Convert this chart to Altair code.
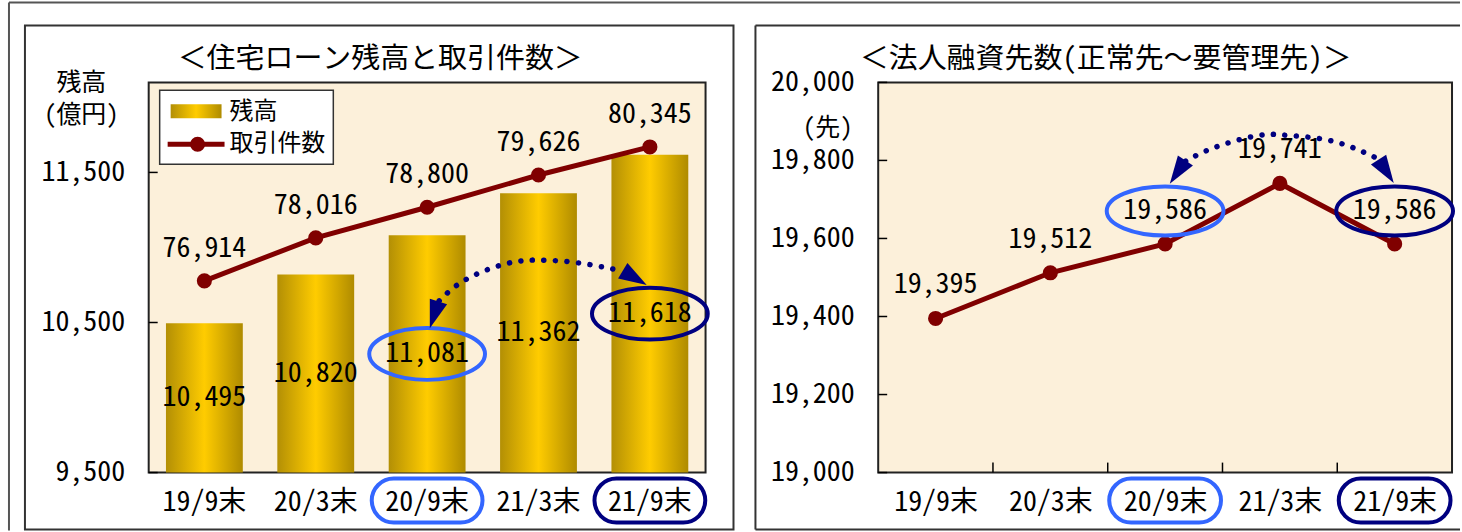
import altair as alt
import pandas as pd

# ---------------- data ----------------
CATS = ["19/9末", "20/3末", "20/9末", "21/3末", "21/9末"]
BALANCE = [10495, 10820, 11081, 11362, 11618]          # 残高 (億円)
DEALS = [76914, 78016, 78800, 79626, 80345]            # 取引件数
CORP = [19395, 19512, 19586, 19741, 19586]             # 法人融資先数
BAL_TICKS = [9500, 10500, 11500]
BAL_DOMAIN = [9500, 12100]
DEAL_DOMAIN = [72000, 82000]
CORP_TICKS = [19000, 19200, 19400, 19600, 19800, 20000]
CORP_DOMAIN = [19000, 20000]
HIGHLIGHT_CATS = ["20/9末", "21/9末"]
HIGHLIGHT_COLORS = ["#3366FF", "#000080"]

TITLE_L = "＜住宅ローン残高と取引件数＞"
TITLE_R = "＜法人融資先数(正常先～要管理先)＞"
LEGEND_LABELS = ["残高", "取引件数"]

# annotation arcs: x in category index units (1..5), y in the panel's value units
ARC1_X = [3.108, 3.34, 3.70, 4.013, 4.371, 4.756]
ARC1_Y = [10644, 10783, 10890, 10916, 10896, 10843]
HEAD1_X = [3.063, 4.864]
HEAD1_Y = [10551, 10797]
HEAD1_ANGLE = [18, 301]
ARC2_X = [3.178, 3.439, 3.813, 4.074, 4.465, 4.865]
ARC2_Y = [19798, 19834, 19864, 19864, 19849, 19803]
HEAD2_X = [3.109, 4.926]
HEAD2_Y = [19770, 19772]
HEAD2_ANGLE = [34, 327]

# ---------------- style / layout ----------------
FONT = "Noto Sans Mono CJK JP, Noto Sans CJK JP, monospace"
FS = 28
TFS = 29
RED = "#800000"
NAVY = "#000080"
PLOT_BG = "#FCF0DA"
W1, W2, H = 558, 575, 391
OX, OY = 148, 81          # page position of left plot origin
GAP = 173
OX2 = OX + W1 + GAP       # page x of right plot origin
PAGE_W, PAGE_H = 1462, 531

GOLD = alt.LinearGradient(
    gradient="linear",
    stops=[alt.GradientStop(color="#B38F05", offset=0),
           alt.GradientStop(color="#FFCC00", offset=0.5),
           alt.GradientStop(color="#AF8B00", offset=1)],
    x1=0, x2=1, y1=0, y2=0)


def ellipse_path(ry):
    k = 0.5523
    a, b = round(k * ry, 4), round(ry, 4)
    return (f"M 1 0 C 1 {a} {k} {b} 0 {b} C {-k} {b} -1 {a} -1 0 "
            f"C -1 {-a} {-k} {-b} 0 {-b} C {k} {-b} 1 {-a} 1 0 Z")


ARROW = "M 0 1 L -0.65 -1 L 0.65 -1 Z"

main = pd.DataFrame({"cat": CATS, "balance": BALANCE, "deals": DEALS, "corp": CORP})
one = pd.DataFrame({"k": [0]})
base = alt.Chart(main)

idx_scale = alt.Scale(domain=[0.5, 5.5], nice=False, zero=False)
bal_scale = alt.Scale(domain=BAL_DOMAIN, nice=False, zero=False)
deal_scale = alt.Scale(domain=DEAL_DOMAIN, nice=False, zero=False)
corp_scale = alt.Scale(domain=CORP_DOMAIN, nice=False, zero=False)
hl_stroke = alt.Stroke("cat:N", scale=alt.Scale(domain=HIGHLIGHT_CATS, range=HIGHLIGHT_COLORS), legend=None)
hl_filter = alt.FieldOneOfPredicate(field="cat", oneOf=HIGHLIGHT_CATS)


def xs():
    return alt.Scale(domain=CATS, paddingInner=0, paddingOuter=0)


def xcat(axis=None):
    return alt.X("cat:N", sort=CATS, scale=xs(), axis=axis)


def x_axis():
    return alt.Axis(title=None, labelAngle=0, ticks=False, tickSize=0, domain=False,
                    labelPadding=30, labelBaseline="middle", labelFont=FONT,
                    labelFontSize=FS, labelColor="black")


def y_axis(values, title, tx, ty):
    return alt.Axis(values=values, format=",d", title=title, titleAngle=0, titleX=tx, titleY=ty,
                    titleAlign="center", titleBaseline="alphabetic", titleLineHeight=32,
                    titleFont=FONT, titleFontSize=25, titleFontWeight="normal", titleColor="black",
                    ticks=False, tickSize=0, domain=False, grid=False, labelPadding=24,
                    labelFont=FONT, labelFontSize=FS, labelColor="black", labelOverlap=False)


def rule(color, width, **enc):
    return alt.Chart(one).mark_rule(color=color, strokeWidth=width).encode(
        **{k: alt.value(v) for k, v in enc.items()})


def title_text(text, cx):
    return alt.Chart(one).mark_text(text=text, align="center", baseline="alphabetic",
                                    font=FONT, fontSize=TFS, color="black").encode(
        x=alt.value(cx), y=alt.value(-14))


# ---------------- left panel ----------------
page_box = alt.Chart(one).mark_rect(fill="white", fillOpacity=0).encode(
    x=alt.value(-OX), x2=alt.value(PAGE_W - OX), y=alt.value(-OY), y2=alt.value(PAGE_H - OY))
outer_top = rule("#555", 2, x=8 - OX, x2=PAGE_W - OX, y=1 - OY)
outer_left = rule("#555", 2, x=8 - OX, y=1 - OY, y2=PAGE_H - 1 - OY)
frame1 = alt.Chart(one).mark_rect(fill="white", fillOpacity=0, stroke="#333", strokeWidth=2).encode(
    x=alt.value(24 - OX), x2=alt.value(734 - OX), y=alt.value(24 - OY), y2=alt.value(529 - OY))
title1 = title_text(TITLE_L, 380 - OX)

yt1 = alt.Chart(pd.DataFrame({"t": BAL_TICKS})).mark_rule(color="black", strokeWidth=1.5).encode(
    y=alt.Y("t:Q", scale=bal_scale, axis=None), x=alt.value(0), x2=alt.value(9))

bars = base.mark_bar(size=77, color=GOLD).encode(
    x=xcat(x_axis()),
    y=alt.Y("balance:Q", scale=bal_scale, axis=y_axis(BAL_TICKS, ["残高", "(億円)"], -68, 8)),
    y2=alt.datum(BAL_DOMAIN[0]))

mid = base.transform_calculate(mid=f"(datum.balance + {BAL_DOMAIN[0]}) / 2")
bar_labels = mid.mark_text(font=FONT, fontSize=FS, color="black", baseline="middle").encode(
    x=xcat(), y=alt.Y("mid:Q", scale=bal_scale, axis=None), text=alt.Text("balance:Q", format=","))
ell1 = mid.transform_filter(hl_filter).mark_point(
    shape=ellipse_path(0.448), size=116 ** 2, filled=False, strokeWidth=4, opacity=1).encode(
    x=xcat(), y=alt.Y("mid:Q", scale=bal_scale, axis=None), stroke=hl_stroke)

line1 = base.mark_line(color=RED, strokeWidth=5).encode(
    x=xcat(), y=alt.Y("deals:Q", scale=deal_scale, axis=None))
pts1 = base.mark_point(filled=True, size=230, color=RED, opacity=1).encode(
    x=xcat(), y=alt.Y("deals:Q", scale=deal_scale, axis=None))
lab1 = base.mark_text(font=FONT, fontSize=FS, color="black", baseline="middle", dy=-32).encode(
    x=xcat(), y=alt.Y("deals:Q", scale=deal_scale, axis=None), text=alt.Text("deals:Q", format=","))

xhl1 = base.transform_filter(hl_filter).mark_bar(size=111, cornerRadius=22, fillOpacity=0, strokeWidth=4).encode(
    x=xcat(), y=alt.value(H + 6), y2=alt.value(H + 50), stroke=hl_stroke)

arc1 = alt.Chart(pd.DataFrame({"ax": ARC1_X, "ay": ARC1_Y})).mark_line(
    interpolate="natural", color=NAVY, strokeWidth=5.5, strokeDash=[0.1, 11.5], strokeCap="round").encode(
    x=alt.X("ax:Q", scale=idx_scale, axis=None), y=alt.Y("ay:Q", scale=bal_scale, axis=None))
heads1 = alt.Chart(pd.DataFrame({"hx": HEAD1_X, "hy": HEAD1_Y, "ha": HEAD1_ANGLE})).mark_point(
    shape=ARROW, size=784, filled=True, color=NAVY, opacity=1).encode(
    x=alt.X("hx:Q", scale=idx_scale, axis=None), y=alt.Y("hy:Q", scale=bal_scale, axis=None),
    angle=alt.Angle("ha:Q", scale=None))

leg_box = alt.Chart(one).mark_rect(fill="white", stroke="#333", strokeWidth=1.5).encode(
    x=alt.value(11), x2=alt.value(185), y=alt.value(8), y2=alt.value(82))
leg_sw = alt.Chart(one).mark_rect(color=GOLD).encode(
    x=alt.value(22), x2=alt.value(73), y=alt.value(22), y2=alt.value(36))
leg_t1 = alt.Chart(one).mark_text(text=LEGEND_LABELS[0], align="left", baseline="middle",
                                  font=FONT, fontSize=24, color="black").encode(x=alt.value(81), y=alt.value(30))
leg_line = rule(RED, 5, x=19, x2=76, y=62)
leg_dot = alt.Chart(one).mark_point(filled=True, size=230, color=RED, opacity=1).encode(
    x=alt.value(49), y=alt.value(62))
leg_t2 = alt.Chart(one).mark_text(text=LEGEND_LABELS[1], align="left", baseline="middle",
                                  font=FONT, fontSize=24, color="black").encode(x=alt.value(81), y=alt.value(62))

left = alt.layer(
    page_box, outer_top, outer_left, frame1, title1, bars, yt1, bar_labels, line1, pts1, lab1,
    ell1, xhl1, arc1, heads1, leg_box, leg_sw, leg_t1, leg_line, leg_dot, leg_t2
).resolve_scale(x="independent", y="independent").properties(width=W1, height=H)

# ---------------- right panel ----------------
fr2_left = rule("#333", 2, x=756 - OX2, y=24 - OY, y2=529 - OY)
fr2_top = rule("#333", 2, x=756 - OX2, x2=PAGE_W - OX2, y=24 - OY)
fr2_bot = rule("#333", 2, x=756 - OX2, x2=PAGE_W - OX2, y=529 - OY)
title2 = title_text(TITLE_R, 1107 - OX2)

yt2 = alt.Chart(pd.DataFrame({"t": CORP_TICKS})).mark_rule(color="black", strokeWidth=1.5).encode(
    y=alt.Y("t:Q", scale=corp_scale, axis=None), x=alt.value(0), x2=alt.value(9))
xt2 = alt.Chart(pd.DataFrame({"cat": CATS[1:]})).mark_rule(color="black", strokeWidth=1.5).encode(
    x=alt.X("cat:N", sort=CATS, scale=xs(), axis=None, bandPosition=0),
    y=alt.value(H), y2=alt.value(H - 10))

line2 = base.mark_line(color=RED, strokeWidth=5).encode(
    x=xcat(x_axis()),
    y=alt.Y("corp:Q", scale=corp_scale, axis=y_axis(CORP_TICKS, "(先)", -51, 53)))
pts2 = base.mark_point(filled=True, size=230, color=RED, opacity=1).encode(
    x=xcat(), y=alt.Y("corp:Q", scale=corp_scale, axis=None))
lab2 = base.mark_text(font=FONT, fontSize=FS, color="black", baseline="middle", dy=-33).encode(
    x=xcat(), y=alt.Y("corp:Q", scale=corp_scale, axis=None), text=alt.Text("corp:Q", format=","))
ell2 = base.transform_filter(hl_filter).mark_point(
    shape=ellipse_path(0.42), size=117 ** 2, filled=False, strokeWidth=4, opacity=1, yOffset=-33).encode(
    x=xcat(), y=alt.Y("corp:Q", scale=corp_scale, axis=None), stroke=hl_stroke)
xhl2 = base.transform_filter(hl_filter).mark_bar(size=112, cornerRadius=22, fillOpacity=0, strokeWidth=4).encode(
    x=xcat(), y=alt.value(H + 6), y2=alt.value(H + 50), stroke=hl_stroke)

arc2 = alt.Chart(pd.DataFrame({"ax": ARC2_X, "ay": ARC2_Y})).mark_line(
    interpolate="natural", color=NAVY, strokeWidth=5.5, strokeDash=[0.1, 11.5], strokeCap="round").encode(
    x=alt.X("ax:Q", scale=idx_scale, axis=None), y=alt.Y("ay:Q", scale=corp_scale, axis=None))
heads2 = alt.Chart(pd.DataFrame({"hx": HEAD2_X, "hy": HEAD2_Y, "ha": HEAD2_ANGLE})).mark_point(
    shape=ARROW, size=784, filled=True, color=NAVY, opacity=1).encode(
    x=alt.X("hx:Q", scale=idx_scale, axis=None), y=alt.Y("hy:Q", scale=corp_scale, axis=None),
    angle=alt.Angle("ha:Q", scale=None))

right = alt.layer(
    fr2_left, fr2_top, fr2_bot, title2, line2, yt2, xt2, pts2, lab2, ell2, xhl2, arc2, heads2
).resolve_scale(x="independent", y="independent").properties(width=W2, height=H)

chart = alt.hconcat(left, right, spacing=GAP, bounds="flush").properties(
    padding=0, background="white", autosize=alt.AutoSizeParams(type="pad")
).configure_view(fill=PLOT_BG, stroke="#222", strokeWidth=2)

chart.save("out.html", embed_options={"renderer": "svg", "actions": False})
